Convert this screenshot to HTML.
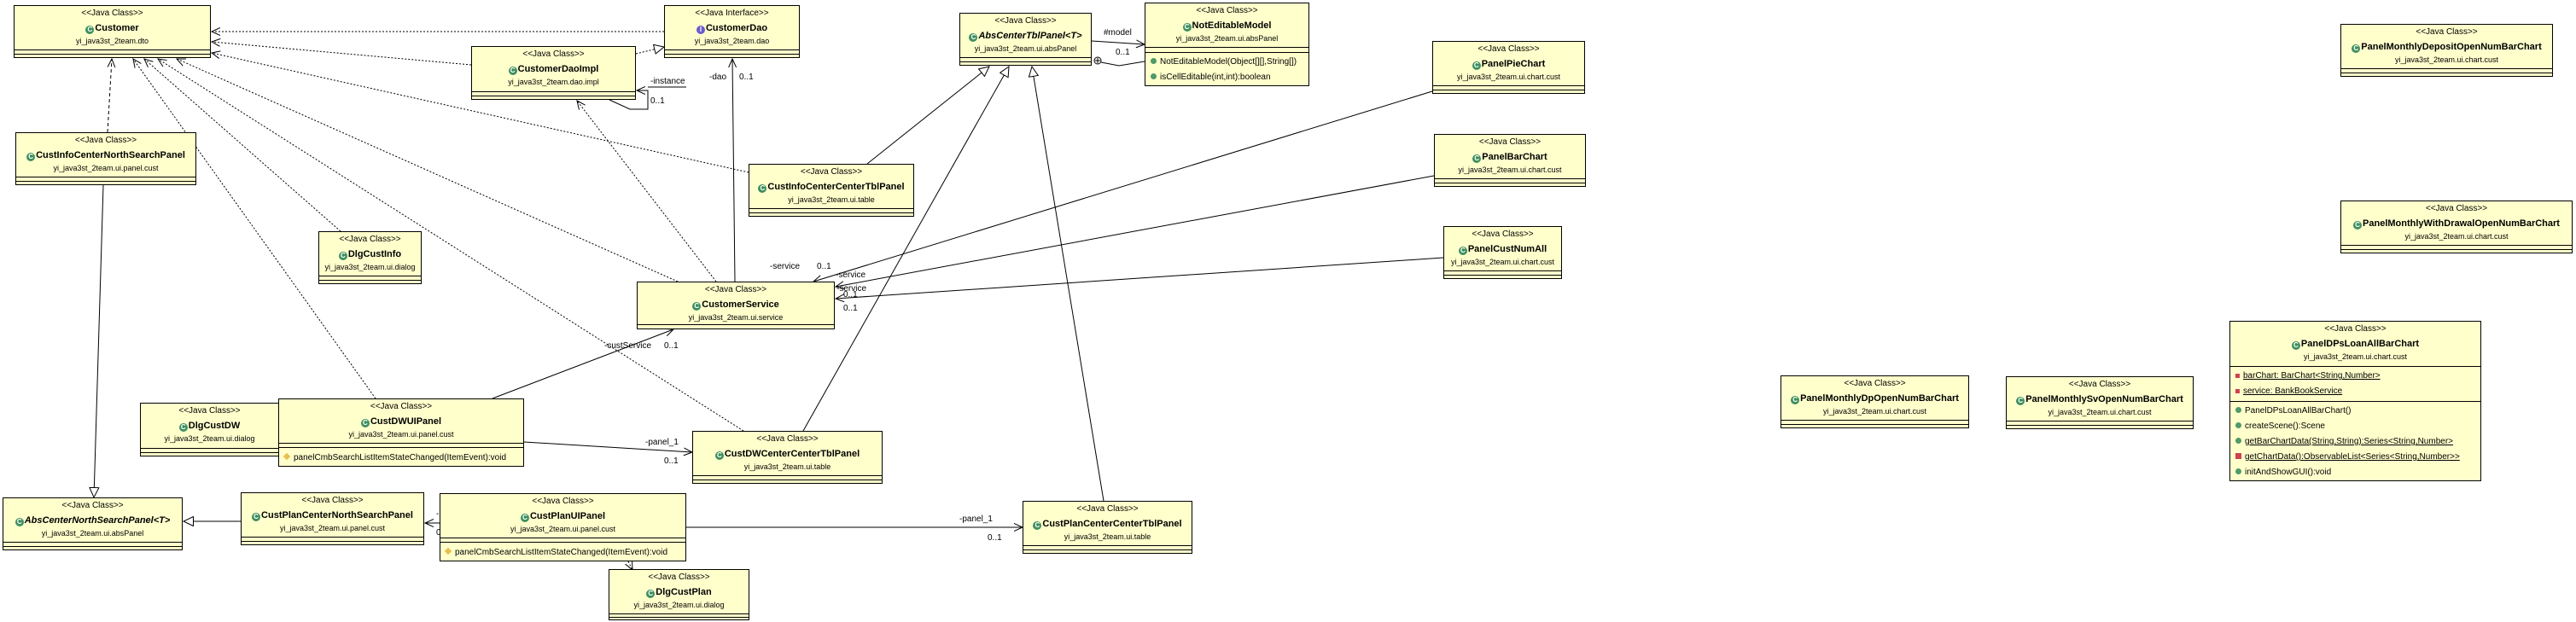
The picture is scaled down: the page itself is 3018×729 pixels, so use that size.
<!DOCTYPE html>
<html><head><meta charset="utf-8"><style>
html,body{margin:0;padding:0;background:#fff;}
body{width:3018px;height:729px;position:relative;overflow:hidden;font-family:"Liberation Sans",sans-serif;}
.b{position:absolute;background:#ffffcc;border:1px solid #000;box-sizing:border-box;text-align:center;white-space:nowrap;color:#000;}
.b div{position:absolute;left:0;right:0;}
.s{top:3px;font-size:10px;line-height:12px;}
.n{top:19px;font-size:11px;line-height:14px;font-weight:bold;}
.n i{font-style:italic;}
.p{top:36px;font-size:9px;line-height:11px;}
.l{height:0;border-top:1px solid #000;}
.ic{display:inline-block;width:10px;height:10px;border-radius:50%;background:#3f8f5f;color:#fff;font-size:8px;line-height:10px;font-weight:bold;text-align:center;vertical-align:-1px;margin-right:1px;font-style:normal;}
.ii{background:#6a5acd;}
.m{font-size:10px;line-height:12px;text-align:left;padding-left:6px;}
.d{display:inline-block;width:6px;height:6px;background:#e8c050;transform:rotate(45deg);margin-right:5px;vertical-align:1px;}
.g{display:inline-block;width:7px;height:7px;border-radius:50%;background:#4f9a6a;margin-right:4px;vertical-align:0px;}
.r{display:inline-block;width:7px;height:7px;background:#d04050;margin-right:4px;}
.u{text-decoration:underline;}
svg{position:absolute;left:0;top:0;}
svg text{font-family:"Liberation Sans",sans-serif;font-size:10px;fill:#000;}
</style></head><body>
<svg width="3018" height="729">
<defs>
<marker id="o" markerUnits="userSpaceOnUse" markerWidth="12" markerHeight="10" refX="10" refY="5" orient="auto"><path d="M0,0.5 L10,5 L0,9.5" fill="none" stroke="#000" stroke-width="1"/></marker>
<marker id="t" markerUnits="userSpaceOnUse" markerWidth="14" markerHeight="12" refX="12" refY="6" orient="auto"><path d="M0.5,0.5 L12,6 L0.5,11.5 Z" fill="#fff" stroke="#000" stroke-width="1"/></marker>
</defs>
<g fill="none" stroke="#000" stroke-width="1">
<g stroke-dasharray="2,2">
<line x1="778" y1="37" x2="248" y2="37" marker-end="url(#o)"/>
<line x1="552" y1="76" x2="248" y2="49" marker-end="url(#o)"/>
<line x1="877" y1="202" x2="248" y2="62" marker-end="url(#o)"/>
<line x1="126" y1="155" x2="131" y2="69" marker-end="url(#o)" stroke-dasharray="4,3"/>
<line x1="440" y1="467" x2="156" y2="69" marker-end="url(#o)"/>
<line x1="399" y1="271" x2="169" y2="69" marker-end="url(#o)"/>
<line x1="871" y1="505" x2="185" y2="69" marker-end="url(#o)"/>
<line x1="794" y1="330" x2="207" y2="69" marker-end="url(#o)"/>
<line x1="839" y1="330" x2="676" y2="118" marker-end="url(#o)"/>
<line x1="745" y1="63" x2="778" y2="55" marker-end="url(#t)"/>
<line x1="329" y1="505" x2="343" y2="505" marker-end="url(#o)"/>
<line x1="736" y1="658" x2="741" y2="668" marker-end="url(#o)"/>
</g>
<line x1="861" y1="330" x2="858" y2="69" marker-end="url(#o)"/>
<path d="M714,117 L738,128 L759,128 L759,106 L746,106" marker-end="url(#o)"/>
<line x1="759" y1="102" x2="804" y2="102"/>
<line x1="1279" y1="48" x2="1341" y2="52" marker-end="url(#o)"/>
<circle cx="1286" cy="71" r="4" fill="#fff"/>
<line x1="1283" y1="71" x2="1289" y2="71"/><line x1="1286" y1="68" x2="1286" y2="74"/>
<path d="M1290,73 L1311,77 L1341,72"/>
<line x1="1678" y1="107" x2="953" y2="330" marker-end="url(#o)"/>
<line x1="1680" y1="206" x2="979" y2="336" marker-end="url(#o)"/>
<line x1="1691" y1="302" x2="979" y2="350" marker-end="url(#o)"/>
<line x1="577" y1="467" x2="789" y2="386" marker-end="url(#o)"/>
<line x1="614" y1="518" x2="811" y2="530" marker-end="url(#o)"/>
<line x1="804" y1="618" x2="1198" y2="618" marker-end="url(#o)"/>
<line x1="515" y1="613" x2="498" y2="613" marker-end="url(#o)"/>
<line x1="282" y1="611" x2="215" y2="611" marker-end="url(#t)"/>
<line x1="121" y1="217" x2="110" y2="583" marker-end="url(#t)"/>
<line x1="1016" y1="192" x2="1159" y2="78" marker-end="url(#t)"/>
<line x1="941" y1="505" x2="1182" y2="78" marker-end="url(#t)"/>
<line x1="1293" y1="587" x2="1209" y2="78" marker-end="url(#t)"/>
</g>
<text x="762" y="98">-instance</text>
<text x="762" y="121">0..1</text>
<text x="831" y="93">-dao</text>
<text x="866" y="93">0..1</text>
<text x="1293" y="41">#model</text>
<text x="1307" y="64">0..1</text>
<text x="902" y="315">-service</text>
<text x="957" y="315">0..1</text>
<text x="979" y="325">-service</text>
<text x="980" y="341">-service</text>
<text x="988" y="348">0..1</text>
<text x="988" y="364">0..1</text>
<text x="708" y="408">-custService</text>
<text x="778" y="408">0..1</text>
<text x="756" y="521">-panel_1</text>
<text x="778" y="543">0..1</text>
<text x="1124" y="611">-panel_1</text>
<text x="1157" y="633">0..1</text>
<text x="511" y="605">-panel</text>
<text x="511" y="627">0..1</text>
</svg>

<div class="b" style="left:16px;top:6px;width:231px;height:62px"><div class="s">&lt;&lt;Java Class&gt;&gt;</div><div class="n"><span class="ic">C</span>Customer</div><div class="p">yi_java3st_2team.dto</div><div class="l" style="top:51px"></div><div class="l" style="top:56px"></div></div>
<div class="b" style="left:778px;top:6px;width:159px;height:62px"><div class="s">&lt;&lt;Java Interface&gt;&gt;</div><div class="n"><span class="ic ii">I</span>CustomerDao</div><div class="p">yi_java3st_2team.dao</div><div class="l" style="top:51px"></div><div class="l" style="top:56px"></div></div>
<div class="b" style="left:552px;top:54px;width:193px;height:63px"><div class="s">&lt;&lt;Java Class&gt;&gt;</div><div class="n"><span class="ic">C</span>CustomerDaoImpl</div><div class="p">yi_java3st_2team.dao.impl</div><div class="l" style="top:52px"></div><div class="l" style="top:57px"></div></div>
<div class="b" style="left:18px;top:155px;width:212px;height:62px"><div class="s">&lt;&lt;Java Class&gt;&gt;</div><div class="n"><span class="ic">C</span>CustInfoCenterNorthSearchPanel</div><div class="p">yi_java3st_2team.ui.panel.cust</div><div class="l" style="top:51px"></div><div class="l" style="top:56px"></div></div>
<div class="b" style="left:877px;top:192px;width:194px;height:62px"><div class="s">&lt;&lt;Java Class&gt;&gt;</div><div class="n"><span class="ic">C</span>CustInfoCenterCenterTblPanel</div><div class="p">yi_java3st_2team.ui.table</div><div class="l" style="top:51px"></div><div class="l" style="top:56px"></div></div>
<div class="b" style="left:373px;top:271px;width:121px;height:62px"><div class="s">&lt;&lt;Java Class&gt;&gt;</div><div class="n"><span class="ic">C</span>DlgCustInfo</div><div class="p">yi_java3st_2team.ui.dialog</div><div class="l" style="top:51px"></div><div class="l" style="top:56px"></div></div>
<div class="b" style="left:746px;top:330px;width:232px;height:56px"><div class="s">&lt;&lt;Java Class&gt;&gt;</div><div class="n"><span class="ic">C</span>CustomerService</div><div class="p">yi_java3st_2team.ui.service</div><div class="l" style="top:49px"></div></div>
<div class="b" style="left:1124px;top:15px;width:155px;height:62px"><div class="s">&lt;&lt;Java Class&gt;&gt;</div><div class="n"><span class="ic">C</span><i>AbsCenterTblPanel&lt;T&gt;</i></div><div class="p">yi_java3st_2team.ui.absPanel</div><div class="l" style="top:51px"></div><div class="l" style="top:56px"></div></div>
<div class="b" style="left:1341px;top:3px;width:193px;height:98px"><div class="s">&lt;&lt;Java Class&gt;&gt;</div><div class="n"><span class="ic">C</span>NotEditableModel</div><div class="p">yi_java3st_2team.ui.absPanel</div><div class="l" style="top:51px"></div><div class="l" style="top:57px"></div><div class="m" style="top:63px"><span class="g"></span>NotEditableModel(Object[][],String[])</div><div class="m" style="top:81px"><span class="g"></span>isCellEditable(int,int):boolean</div></div>
<div class="b" style="left:1678px;top:48px;width:179px;height:62px"><div class="s">&lt;&lt;Java Class&gt;&gt;</div><div class="n"><span class="ic">C</span>PanelPieChart</div><div class="p">yi_java3st_2team.ui.chart.cust</div><div class="l" style="top:51px"></div><div class="l" style="top:56px"></div></div>
<div class="b" style="left:1680px;top:157px;width:178px;height:62px"><div class="s">&lt;&lt;Java Class&gt;&gt;</div><div class="n"><span class="ic">C</span>PanelBarChart</div><div class="p">yi_java3st_2team.ui.chart.cust</div><div class="l" style="top:51px"></div><div class="l" style="top:56px"></div></div>
<div class="b" style="left:1691px;top:265px;width:139px;height:62px"><div class="s">&lt;&lt;Java Class&gt;&gt;</div><div class="n"><span class="ic">C</span>PanelCustNumAll</div><div class="p">yi_java3st_2team.ui.chart.cust</div><div class="l" style="top:51px"></div><div class="l" style="top:56px"></div></div>
<div class="b" style="left:164px;top:472px;width:163px;height:63px"><div class="s">&lt;&lt;Java Class&gt;&gt;</div><div class="n"><span class="ic">C</span>DlgCustDW</div><div class="p">yi_java3st_2team.ui.dialog</div><div class="l" style="top:52px"></div><div class="l" style="top:57px"></div></div>
<div class="b" style="left:326px;top:467px;width:288px;height:80px"><div class="s">&lt;&lt;Java Class&gt;&gt;</div><div class="n"><span class="ic">C</span>CustDWUIPanel</div><div class="p">yi_java3st_2team.ui.panel.cust</div><div class="l" style="top:51px"></div><div class="l" style="top:56px"></div><div class="m" style="top:63px"><span class="d"></span>panelCmbSearchListItemStateChanged(ItemEvent):void</div></div>
<div class="b" style="left:811px;top:505px;width:223px;height:62px"><div class="s">&lt;&lt;Java Class&gt;&gt;</div><div class="n"><span class="ic">C</span>CustDWCenterCenterTblPanel</div><div class="p">yi_java3st_2team.ui.table</div><div class="l" style="top:51px"></div><div class="l" style="top:56px"></div></div>
<div class="b" style="left:3px;top:583px;width:211px;height:62px"><div class="s">&lt;&lt;Java Class&gt;&gt;</div><div class="n"><span class="ic">C</span><i>AbsCenterNorthSearchPanel&lt;T&gt;</i></div><div class="p">yi_java3st_2team.ui.absPanel</div><div class="l" style="top:51px"></div><div class="l" style="top:56px"></div></div>
<div class="b" style="left:282px;top:577px;width:215px;height:62px"><div class="s">&lt;&lt;Java Class&gt;&gt;</div><div class="n"><span class="ic">C</span>CustPlanCenterNorthSearchPanel</div><div class="p">yi_java3st_2team.ui.panel.cust</div><div class="l" style="top:51px"></div><div class="l" style="top:56px"></div></div>
<div class="b" style="left:515px;top:578px;width:289px;height:80px"><div class="s">&lt;&lt;Java Class&gt;&gt;</div><div class="n"><span class="ic">C</span>CustPlanUIPanel</div><div class="p">yi_java3st_2team.ui.panel.cust</div><div class="l" style="top:51px"></div><div class="l" style="top:56px"></div><div class="m" style="top:63px"><span class="d"></span>panelCmbSearchListItemStateChanged(ItemEvent):void</div></div>
<div class="b" style="left:713px;top:667px;width:165px;height:60px"><div class="s">&lt;&lt;Java Class&gt;&gt;</div><div class="n"><span class="ic">C</span>DlgCustPlan</div><div class="p">yi_java3st_2team.ui.dialog</div><div class="l" style="top:51px"></div><div class="l" style="top:55px"></div></div>
<div class="b" style="left:1198px;top:587px;width:199px;height:62px"><div class="s">&lt;&lt;Java Class&gt;&gt;</div><div class="n"><span class="ic">C</span>CustPlanCenterCenterTblPanel</div><div class="p">yi_java3st_2team.ui.table</div><div class="l" style="top:51px"></div><div class="l" style="top:56px"></div></div>
<div class="b" style="left:2742px;top:28px;width:249px;height:62px"><div class="s">&lt;&lt;Java Class&gt;&gt;</div><div class="n"><span class="ic">C</span>PanelMonthlyDepositOpenNumBarChart</div><div class="p">yi_java3st_2team.ui.chart.cust</div><div class="l" style="top:51px"></div><div class="l" style="top:56px"></div></div>
<div class="b" style="left:2742px;top:235px;width:272px;height:62px"><div class="s">&lt;&lt;Java Class&gt;&gt;</div><div class="n"><span class="ic">C</span>PanelMonthlyWithDrawalOpenNumBarChart</div><div class="p">yi_java3st_2team.ui.chart.cust</div><div class="l" style="top:51px"></div><div class="l" style="top:56px"></div></div>
<div class="b" style="left:2086px;top:440px;width:221px;height:62px"><div class="s">&lt;&lt;Java Class&gt;&gt;</div><div class="n"><span class="ic">C</span>PanelMonthlyDpOpenNumBarChart</div><div class="p">yi_java3st_2team.ui.chart.cust</div><div class="l" style="top:51px"></div><div class="l" style="top:56px"></div></div>
<div class="b" style="left:2350px;top:441px;width:220px;height:62px"><div class="s">&lt;&lt;Java Class&gt;&gt;</div><div class="n"><span class="ic">C</span>PanelMonthlySvOpenNumBarChart</div><div class="p">yi_java3st_2team.ui.chart.cust</div><div class="l" style="top:51px"></div><div class="l" style="top:56px"></div></div>
<div class="b" style="left:2612px;top:376px;width:295px;height:188px"><div class="s">&lt;&lt;Java Class&gt;&gt;</div><div class="n"><span class="ic">C</span>PanelDPsLoanAllBarChart</div><div class="p">yi_java3st_2team.ui.chart.cust</div><div class="l" style="top:52px"></div>
<div class="m" style="top:58px"><span class="r" style="width:5px;height:5px"></span><span class="u">barChart: BarChart&lt;String,Number&gt;</span></div>
<div class="m" style="top:76px"><span class="r" style="width:5px;height:5px"></span><span class="u">service: BankBookService</span></div>
<div class="l" style="top:93px"></div>
<div class="m" style="top:99px"><span class="g"></span>PanelDPsLoanAllBarChart()</div>
<div class="m" style="top:117px"><span class="g"></span>createScene():Scene</div>
<div class="m" style="top:135px"><span class="g"></span><span class="u">getBarChartData(String,String):Series&lt;String,Number&gt;</span></div>
<div class="m" style="top:153px"><span class="r"></span><span class="u">getChartData():ObservableList&lt;Series&lt;String,Number&gt;&gt;</span></div>
<div class="m" style="top:171px"><span class="g"></span>initAndShowGUI():void</div>
</div>
</body></html>
